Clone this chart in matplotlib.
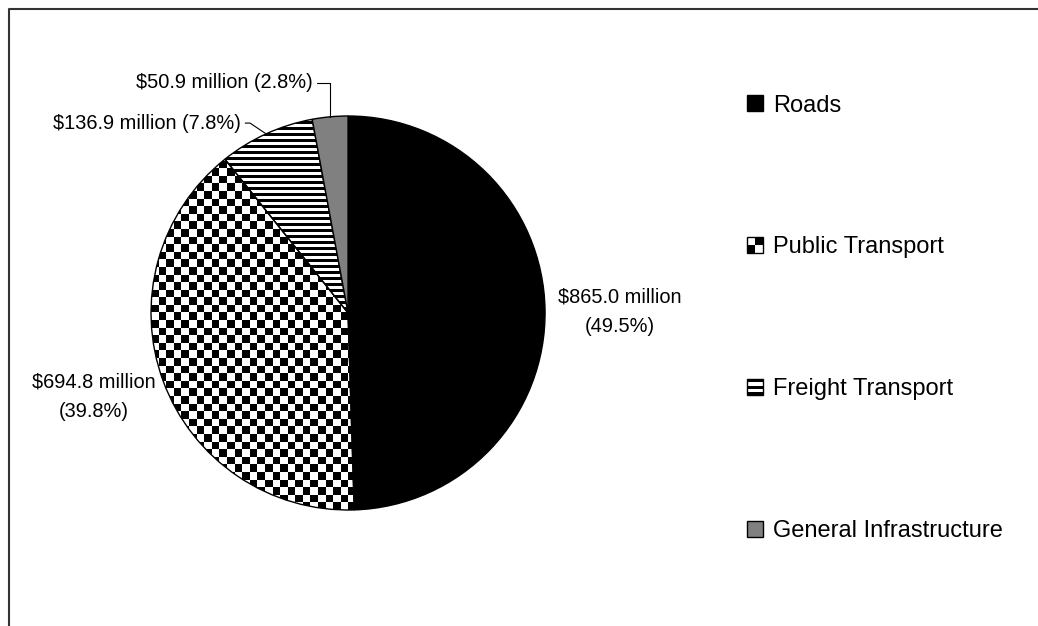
import numpy as np
import matplotlib.pyplot as plt
from matplotlib.patches import Rectangle, Patch
from matplotlib.legend_handler import HandlerBase
from matplotlib.lines import Line2D

plt.rcParams['font.family'] = ['Liberation Sans', 'DejaVu Sans']

# data
categories = ["Roads", "Public Transport", "Freight Transport", "General Infrastructure"]
spend_millions = [865.0, 694.8, 136.9, 50.9]
shares_pct = [49.5, 39.8, 7.8, 2.8]
fills = ["black", "checker", "stripes", "gray"]


class PatternHandler(HandlerBase):
    """Small legend swatch that mimics the fill pattern of a slice."""

    def __init__(self, kind):
        super().__init__()
        self.kind = kind

    def create_artists(self, legend, orig_handle, xdescent, ydescent,
                       width, height, fontsize, trans):
        x0, y0 = -xdescent, -ydescent
        w = h = height
        parts = []
        if self.kind == "checker":
            parts.append(Rectangle((x0, y0), w / 2, h / 2, fc="black", lw=0))
            parts.append(Rectangle((x0 + w / 2, y0 + h / 2), w / 2, h / 2, fc="black", lw=0))
        elif self.kind == "stripes":
            for i in range(5):
                if i % 2 == 0:
                    parts.append(Rectangle((x0, y0 + i * h / 5), w, h / 5, fc="black", lw=0))
        parts.append(Rectangle((x0, y0), w, h, lw=1,
                               fc={"black": "black", "gray": "#808080"}.get(self.kind, "none"),
                               ec="black"))
        for p in parts:
            p.set_transform(trans)
        return parts


fig = plt.figure(figsize=(10.38, 6.26), dpi=100)
ax = fig.add_axes([0.1455, 0.1853, 0.3796, 0.6294])

face = {"black": "black", "gray": "#808080", "checker": "none", "stripes": "none"}
wedges, _ = ax.pie(spend_millions, startangle=90, counterclock=False,
                   colors=[face[f] for f in fills],
                   wedgeprops=dict(edgecolor="black", linewidth=1))
ax.set_xlim(-1, 1)
ax.set_ylim(-1, 1)
ax.axis("off")

# pattern fills clipped to their wedges
n_cells = 52
yy, xx = np.indices((n_cells, n_cells))
checker = (xx + yy) % 2
stripes = (np.arange(394) % 6 < 3).astype(float).reshape(-1, 1)
for w, kind in zip(wedges, fills):
    if kind == "checker":
        img = checker
    elif kind == "stripes":
        img = stripes
    else:
        continue
    im = ax.imshow(img, cmap="gray_r", extent=(-1, 1, -1, 1), interpolation="nearest",
                   aspect="auto", zorder=0.5, vmin=0, vmax=1)
    im.set_clip_path(w)

label_fs = 14.4
labels = [f"${v:.1f} million\n({p:.1f}%)" for v, p in zip(spend_millions, shares_pct)]
ax.text(1.381, 0.008, labels[0], ha="center", va="center", fontsize=label_fs,
        linespacing=1.7, parse_math=False)
ax.text(-1.292, -0.424, labels[1], ha="center", va="center", fontsize=label_fs,
        linespacing=1.7, parse_math=False)

# small slices get leader lines
def edge_point(w):
    mid = np.radians((w.theta1 + w.theta2) / 2)
    return np.cos(mid), np.sin(mid)

ax.annotate(labels[2].replace("\n", " "), xy=edge_point(wedges[2]), xytext=(-0.543, 0.964),
            ha="right", va="center", fontsize=label_fs, annotation_clip=False,
            arrowprops=dict(arrowstyle="-", color="black", lw=0.8, relpos=(1, 0.5),
                            shrinkA=1, shrinkB=0,
                            connectionstyle="arc,angleA=0,armA=9,angleB=0,armB=0,rad=0"))
ax.annotate(labels[3].replace("\n", " "), xy=edge_point(wedges[3]), xytext=(-0.178, 1.168),
            ha="right", va="center", fontsize=label_fs, annotation_clip=False,
            arrowprops=dict(arrowstyle="-", color="black", lw=0.8, relpos=(1, 0.5),
                            shrinkA=1, shrinkB=0,
                            connectionstyle="angle,angleA=0,angleB=90,rad=0"))

handles = [Patch(label=c) for c in categories]
fig.legend(handles=handles, handler_map={h: PatternHandler(k) for h, k in zip(handles, fills)},
           loc="upper left", bbox_to_anchor=(0.7197, 0.849), frameon=False,
           fontsize=17.0, handlelength=0.68, handleheight=0.68, handletextpad=0.42,
           labelspacing=5.08, borderpad=0, borderaxespad=0)

# partial outer frame (left and top only)
fx, fy = 8.5 / 1038, 1 - 8.5 / 626
fig.add_artist(Line2D([fx, fx, 1], [0, fy, fy], transform=fig.transFigure,
                      color="#333333", lw=1.5))

fig.savefig("out.png", dpi=100)
